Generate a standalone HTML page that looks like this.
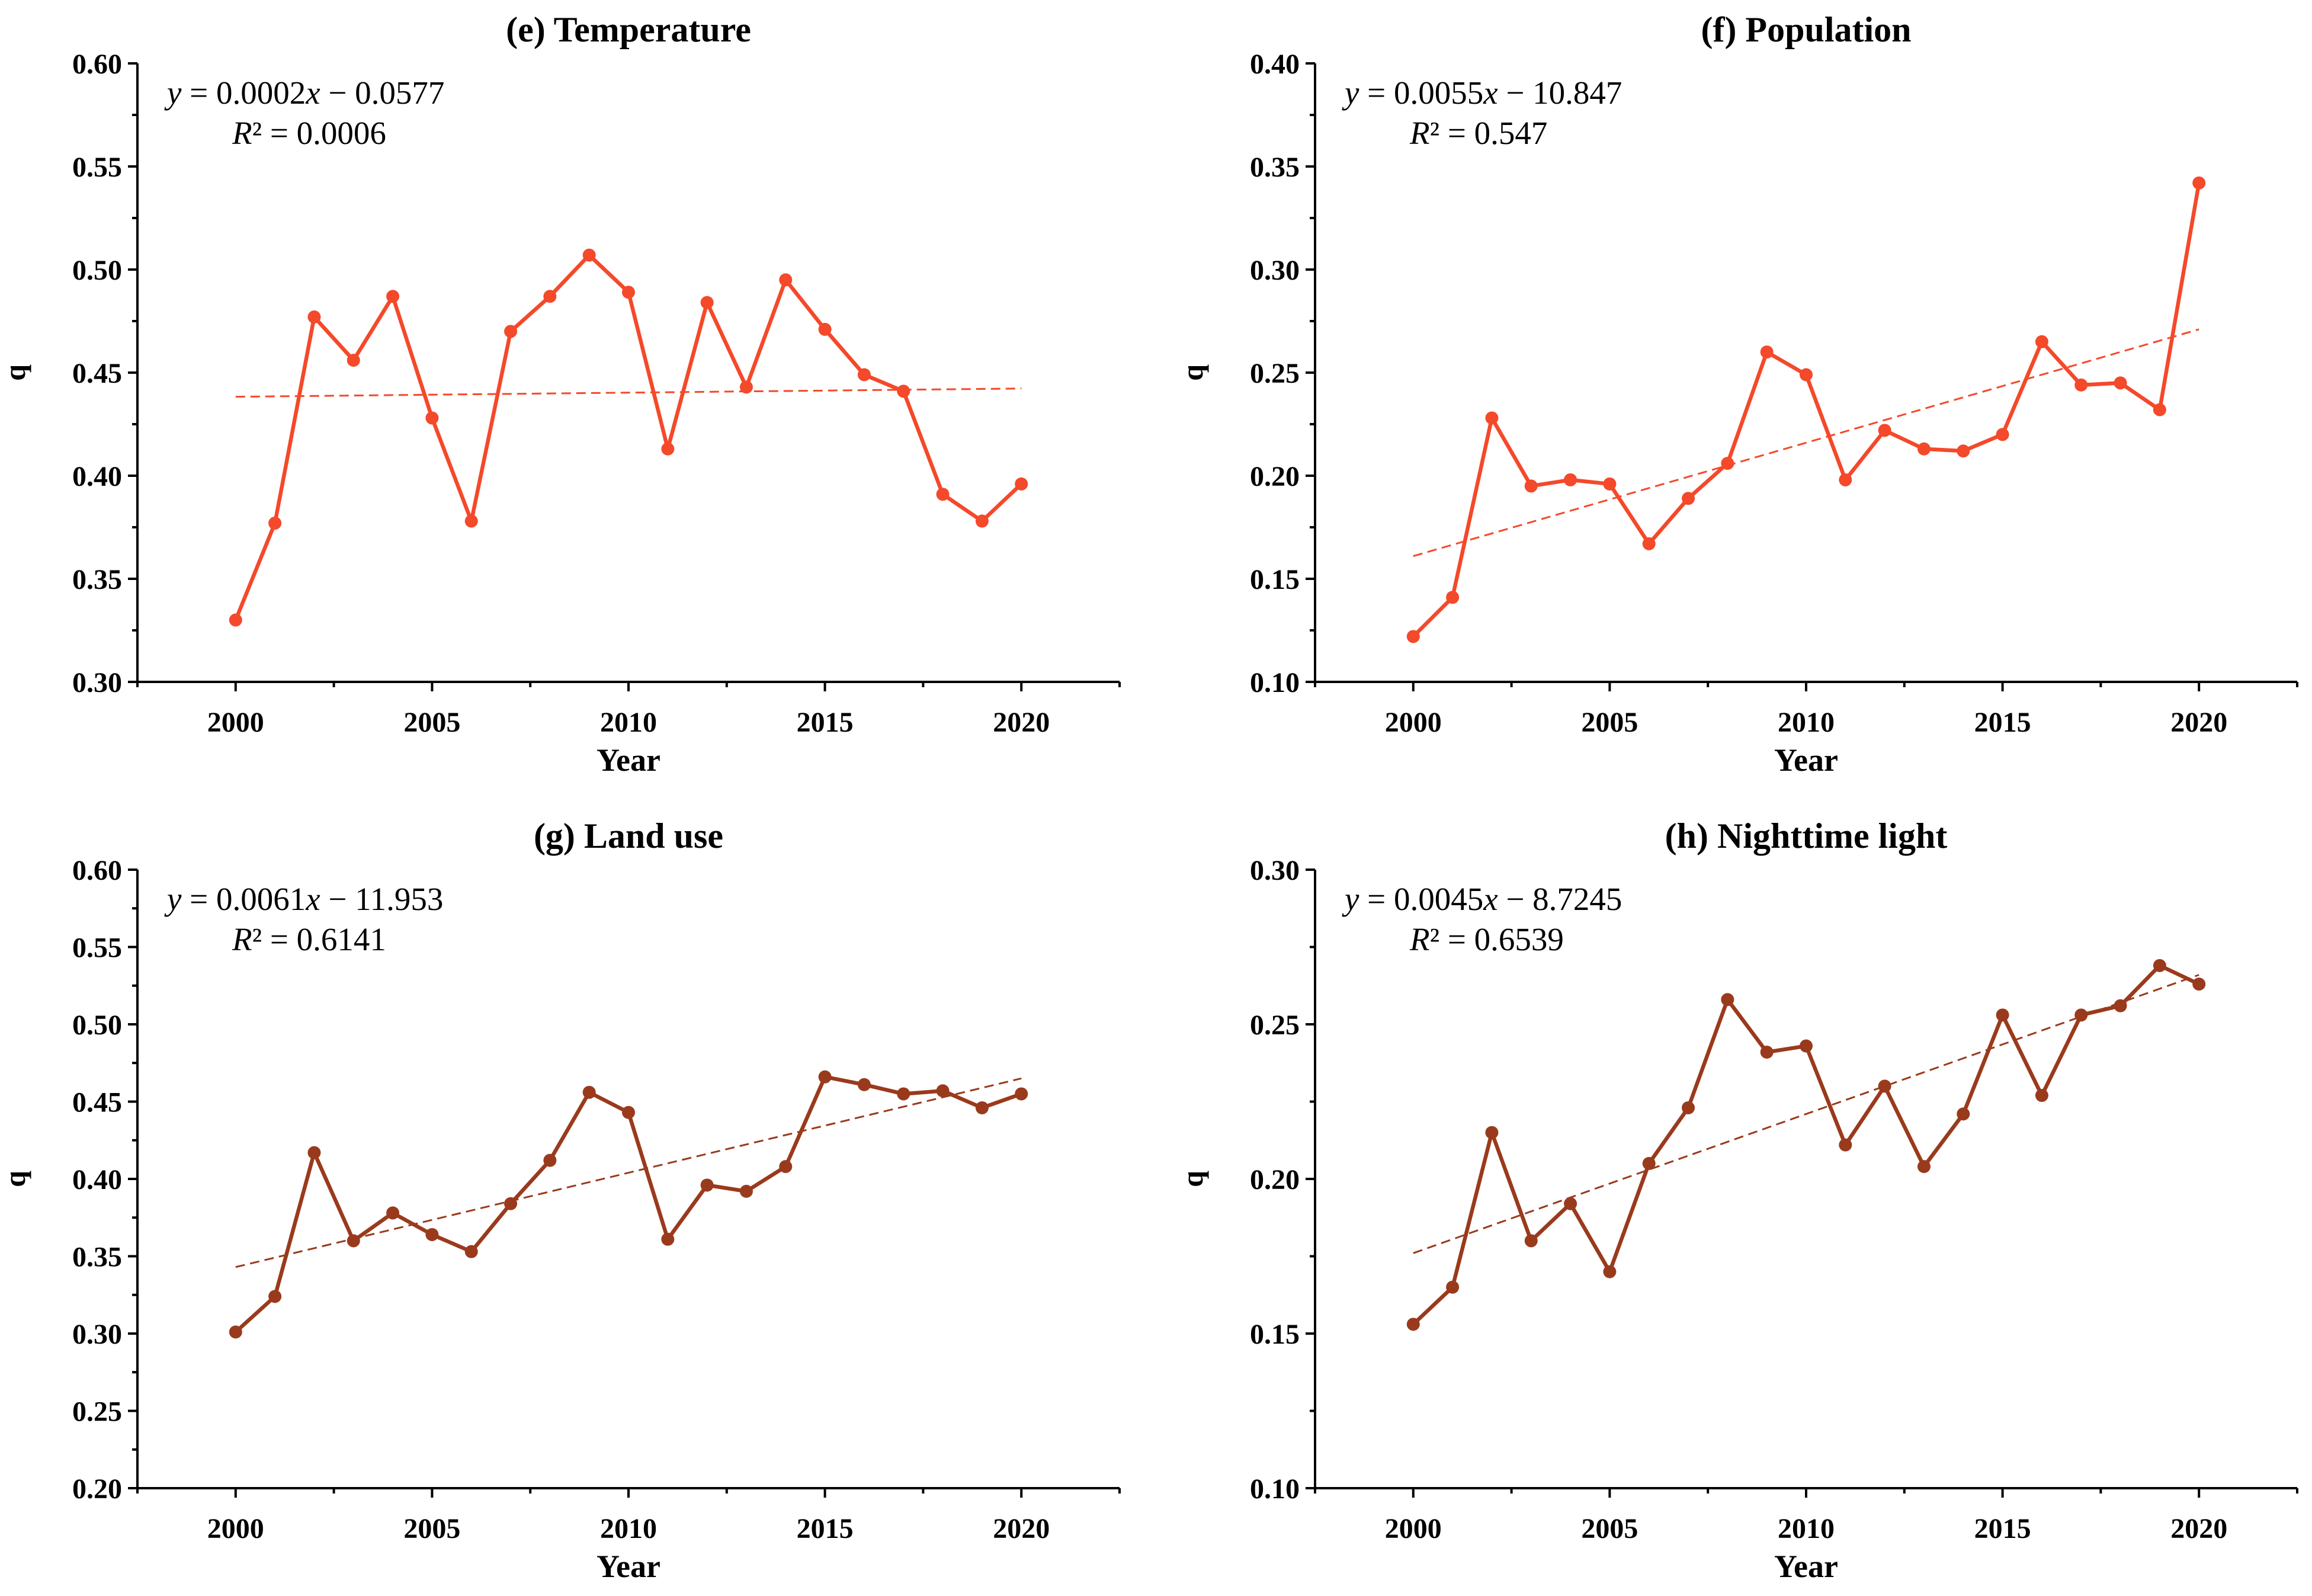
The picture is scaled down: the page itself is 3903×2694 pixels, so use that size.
<!DOCTYPE html>
<html><head><meta charset="utf-8"><style>
html,body{margin:0;padding:0;background:#fff}
svg{display:block;font-family:"Liberation Serif",serif}
</style></head><body>
<svg id="chart" width="3903" height="2694" viewBox="0 0 3903 2694" xmlns="http://www.w3.org/2000/svg"></svg>
<script>
const years = [2000,2001,2002,2003,2004,2005,2006,2007,2008,2009,2010,2011,2012,2013,2014,2015,2016,2017,2018,2019,2020];
const tempValues = [.330,.377,.477,.456,.487,.428,.378,.470,.487,.507,.489,.413,.484,.443,.495,.471,.449,.441,.391,.378,.396];
const popValues = [.122,.141,.228,.195,.198,.196,.167,.189,.206,.260,.249,.198,.222,.213,.212,.220,.265,.244,.245,.232,.342];
const landValues = [.301,.324,.417,.360,.378,.364,.353,.384,.412,.456,.443,.361,.396,.392,.408,.466,.461,.455,.457,.446,.455];
const lightValues = [.153,.165,.215,.180,.192,.170,.205,.223,.258,.241,.243,.211,.230,.204,.221,.253,.227,.253,.256,.269,.263];
const tempTrend = [0.4383,0.4423];
const popTrend = [0.161,0.271];
const landTrend = [0.343,0.465];
const lightTrend = [0.176,0.266];
const xTickLabels = ["2000","2005","2010","2015","2020"];
const yTicksE = ["0.30","0.35","0.40","0.45","0.50","0.55","0.60"];
const yTicksF = ["0.10","0.15","0.20","0.25","0.30","0.35","0.40"];
const yTicksG = ["0.20","0.25","0.30","0.35","0.40","0.45","0.50","0.55","0.60"];
const yTicksH = ["0.10","0.15","0.20","0.25","0.30"];

const NS="http://www.w3.org/2000/svg";
const svg=document.getElementById('chart');
function mk(tag,attrs,parent){const e=document.createElementNS(NS,tag);for(const k in attrs)e.setAttribute(k,attrs[k]);(parent||svg).appendChild(e);return e;}

const panels=[
 {key:'temperature',title:'(e) Temperature',L:232,R:1890,T:107,B:1151,vals:tempValues,trend:tempTrend,ticks:yTicksE,minor:0.025,color:'#f4492a',eq1:'0.0002',eq2:'0.0577',r2:'0.0006'},
 {key:'population',title:'(f) Population',L:2220,R:3878,T:107,B:1151,vals:popValues,trend:popTrend,ticks:yTicksF,minor:0.025,color:'#f4492a',eq1:'0.0055',eq2:'10.847',r2:'0.547'},
 {key:'land-use',title:'(g) Land use',L:232,R:1890,T:1468,B:2512,vals:landValues,trend:landTrend,ticks:yTicksG,minor:0.025,color:'#9a3a1d',eq1:'0.0061',eq2:'11.953',r2:'0.6141'},
 {key:'nighttime-light',title:'(h) Nighttime light',L:2220,R:3878,T:1468,B:2512,vals:lightValues,trend:lightTrend,ticks:yTicksH,minor:0.025,color:'#9a3a1d',eq1:'0.0045',eq2:'8.7245',r2:'0.6539'}
];

panels.forEach(p=>{
 const g=mk('g',{});
 
 
 const ymin=parseFloat(p.ticks[0]),ymax=parseFloat(p.ticks[p.ticks.length-1]);
 const xs=v=>p.L+(v-1997.5)/25*(p.R-p.L);
 const ys=v=>p.B-(v-ymin)/(ymax-ymin)*(p.B-p.T);
 const cx=(p.L+p.R)/2;
 const t=mk('text',{x:cx,y:p.T-37,'text-anchor':'middle','font-size':60,'font-weight':'bold'},g);
 t.textContent=p.title;
 
 
 const ax=mk('path',{d:`M${p.L},${p.T} V${p.B} H${p.R}`,fill:'none',stroke:'#000','stroke-width':4},g);
 
 
 for(let v=ymin;v<=ymax+1e-9;v+=p.minor){
  const major=Math.abs(Math.round(v/0.05)*0.05-v)<1e-6;
  mk('line',{x1:p.L,x2:p.L-(major?16:9),y1:ys(v),y2:ys(v),stroke:'#000','stroke-width':4},g);
 }
 p.ticks.forEach(s=>{
  const tl=mk('text',{x:p.L-26,y:ys(parseFloat(s))+17,'text-anchor':'end','font-size':48,'font-weight':'bold'},g);
  tl.textContent=s;
  
  
 });
 for(let v=1997.5;v<=2022.5+1e-9;v+=2.5){
  const major=Math.abs(v%5)<1e-6;
  mk('line',{x1:xs(v),x2:xs(v),y1:p.B,y2:p.B+(major?16:9),stroke:'#000','stroke-width':4},g);
 }
 xTickLabels.forEach(s=>{
  const tl=mk('text',{x:xs(parseFloat(s)),y:p.B+84,'text-anchor':'middle','font-size':48,'font-weight':'bold'},g);
  tl.textContent=s;
  
  
 });
 const xl=mk('text',{x:cx,y:p.B+150,'text-anchor':'middle','font-size':54,'font-weight':'bold'},g);
 xl.textContent='Year';
 
 
 const yl=mk('text',{x:0,y:0,'text-anchor':'middle','font-size':50,'font-weight':'bold',transform:`translate(${p.L-190},${(p.T+p.B)/2}) rotate(-90)`},g);
 yl.textContent='q';
 
 
 const tr=mk('line',{x1:xs(years[0]),y1:ys(p.trend[0]),x2:xs(years[years.length-1]),y2:ys(p.trend[1]),stroke:p.color,'stroke-width':3,'stroke-dasharray':'16,9'},g);
 
 
 const pl=mk('polyline',{points:years.map((y,i)=>xs(y)+','+ys(p.vals[i])).join(' '),fill:'none',stroke:p.color,'stroke-width':6.5,'stroke-linejoin':'round'},g);
 
 
 years.forEach((y,i)=>{
  const c=mk('circle',{cx:xs(y),cy:ys(p.vals[i]),r:11,fill:p.color},g);
  
  
 });
 const e1=mk('text',{x:p.L+50,y:p.T+68,'font-size':55},g);
 e1.innerHTML=`<tspan font-style="italic">y</tspan> = ${p.eq1}<tspan font-style="italic">x</tspan> − ${p.eq2}`;
 
 
 const e2=mk('text',{x:p.L+160,y:p.T+136,'font-size':55},g);
 e2.innerHTML=`<tspan font-style="italic">R</tspan>² = ${p.r2}`;
 
 
});
</script>
</body></html>
